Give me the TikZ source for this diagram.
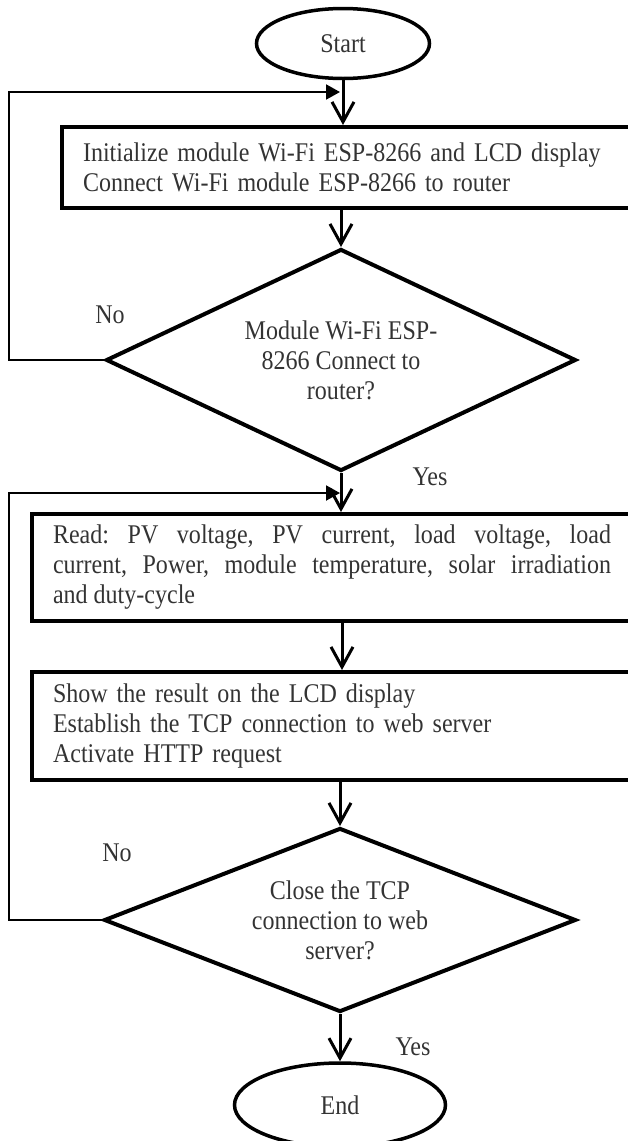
\documentclass[tikz,border=0pt]{standalone}
\usepackage{fontspec}
\setmainfont{Liberation Serif}[FakeStretch=0.89]
\usepackage{tikz}
\usetikzlibrary{calc, positioning, shapes, arrows.meta}
\frenchspacing
\def\colx{342}
\tikzstyle{process}=[rectangle, draw, line width=4pt, anchor=west, inner xsep=21pt, inner ysep=0pt]
\tikzstyle{decision}=[diamond, draw, line width=4pt, align=center, inner sep=0pt]
\tikzstyle{terminal}=[ellipse, draw, line width=3.5pt, inner sep=0pt]
\tikzstyle{flowline}=[line width=3pt, -{Straight Barb[length=20pt,width=22pt,line width=3pt]}]
\tikzstyle{backline}=[line width=2pt, -{Triangle[length=14pt,width=15pt]}]

\begin{document}
\begin{tikzpicture}[x=1pt, y=-1pt, every node/.style={font=\fontsize{27}{30}\selectfont, text=black!80}]
		\useasboundingbox (0,0) rectangle (628,1141);
		\node[terminal, minimum width=173pt, minimum height=70pt] (St) at (343,43.5) {Start};
		\node[process, minimum height=81pt, text width=580pt, align=left] (B-1) at (60,167.5)
			{Initialize module Wi-Fi ESP-8266 and LCD display\\Connect Wi-Fi module ESP-8266 to router};
		\node[decision, aspect=2.1, minimum width=470pt, minimum height=222pt] (D-1) at (341,360)
			{Module Wi-Fi ESP-\\8266 Connect to\\router?};
		\node[process, minimum height=107pt, text width=558pt, align=justify] (B-2) at (30,567.5)
			{Read: PV voltage, PV current, load voltage, load\linebreak current, Power, module temperature, solar irradiation\linebreak and duty-cycle};
		\node[process, minimum height=108pt, text width=580pt, align=left] (B-3) at (30,726)
			{Show the result on the LCD display\\Establish the TCP connection to web server\\Activate HTTP request};
		\node[decision, aspect=2.55, minimum width=472pt, minimum height=184pt] (D-2) at (340,920)
			{Close the TCP\\connection to web\\server?};
		\node[terminal, minimum width=211pt, minimum height=84pt] (En) at (340,1105) {End};
		\node (No-1) at (110,315) {No};
		\node (Yes-1) at (430,477) {Yes};
		\node (No-2) at (117,853) {No};
		\node (Yes-2) at (413,1047) {Yes};
		\coordinate (L-1) at (9,92);
		\coordinate (J-1) at (\colx,92);
		\coordinate (L-2) at (9,493);
		\coordinate (J-2) at (\colx,493);
		\path
		(St.south) edge[flowline] (St.south |- B-1.north)
		(B-1.south -| D-1.north) edge[flowline] (D-1.north)
		(D-1.south) edge[flowline] (D-1.south |- B-2.north)
		(B-2.south -| \colx,0) edge[flowline] (B-3.north -| \colx,0)
		(B-3.south -| D-2.north) edge[flowline] (D-2.north)
		(D-2.south) edge[flowline] (En.north);
		\draw[backline, shorten >=2pt] (D-1.west) -| (L-1) -- (J-1);
		\draw[backline, shorten >=2pt] (D-2.west) -| (L-2) -- (J-2);
	\end{tikzpicture}
\end{document}
